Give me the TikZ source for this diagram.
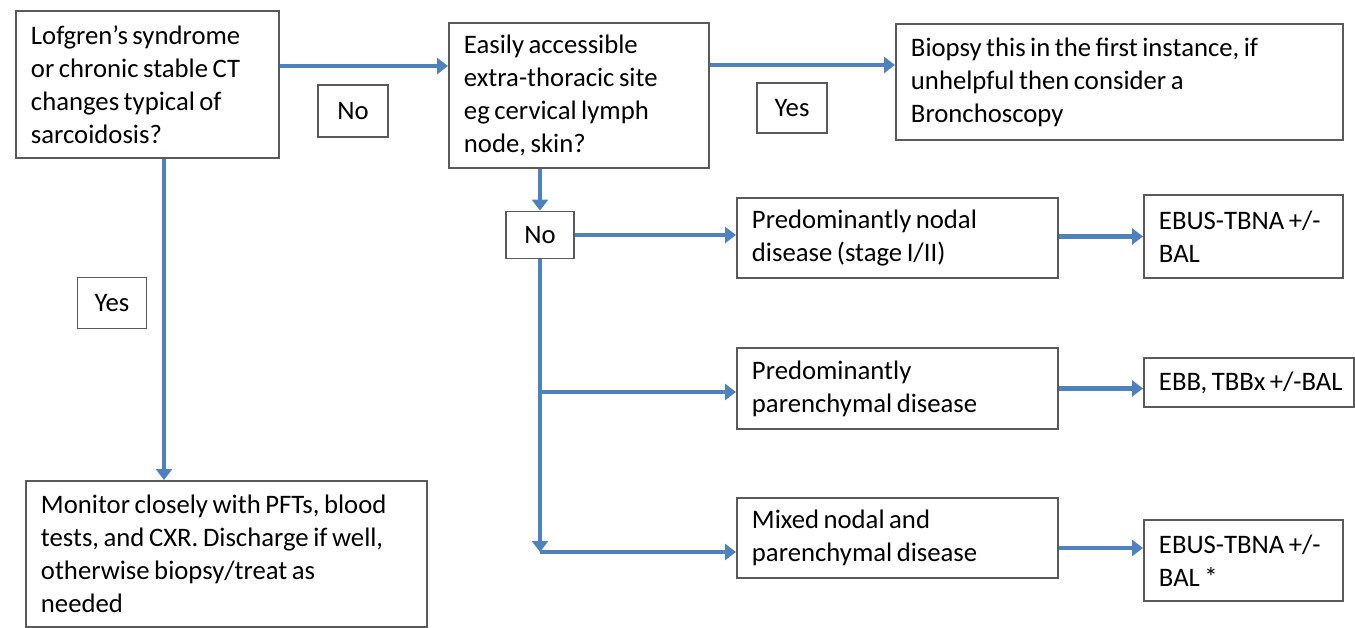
\documentclass[tikz,border=0pt]{standalone}
\usepackage{fontspec}
\setmainfont{Carlito}
\usepackage{xcolor}
\usepackage{tikz}
\usetikzlibrary{arrows.meta, positioning}

\definecolor{flowblue}{HTML}{4F81BD}
\definecolor{boxgray}{HTML}{5A5A5A}
\newcommand\flowfont{\fontsize{15.2}{18.8}\selectfont}

\begin{document}
\begin{tikzpicture}[
    x=0.02cm, y=-0.02cm,
    box/.style={draw=boxgray, line width=1.1pt, anchor=north west, align=left, inner xsep=0.3cm, inner ysep=0pt, font=\flowfont, text=black, execute at begin node={\spaceskip=0.17em\relax}},
    tag/.style={draw=boxgray, line width=1.1pt, inner sep=0pt, font=\flowfont, text=black},
    arr/.style={-{Triangle[length=0.22cm, width=0.32cm]}, draw=flowblue, line width=2.4pt},
]
\useasboundingbox (0,0) rectangle (1355,628);

% first question and its outcomes
\node[box, text width=4.66cm, minimum height=2.94cm] (lofgren) at (15,10) {Lofgren's syndrome\\or chronic stable CT\\changes typical of\\sarcoidosis?};
\node[box, text width=4.60cm, minimum height=2.90cm] (extra) at (448,22) {Easily accessible\\extra-thoracic site\\eg cervical lymph\\node, skin?};
\node[box, text width=8.34cm, minimum height=2.32cm] (biopsy) at (895,23) {Biopsy this in the first instance, if\\unhelpful then consider a\\Bronchoscopy};
\node[box, text width=7.42cm, minimum height=2.92cm] (monitor) at (25,480) {Monitor closely with PFTs,~blood\\tests, and CXR. Discharge if~well,\\otherwise biopsy/treat as\\needed};

% disease pattern
\node[box, text width=5.82cm, minimum height=1.60cm] (nodal) at (736,197) {Predominantly nodal\\disease (stage I/II)};
\node[box, text width=5.82cm, minimum height=1.62cm] (paren) at (736,347) {Predominantly\\parenchymal disease};
\node[box, text width=5.82cm, minimum height=1.60cm] (mixed) at (736,497) {Mixed nodal and\\parenchymal disease};

% procedures
\node[box, text width=3.38cm, minimum height=1.66cm] (ebusa) at (1143,194) {\mbox{EBUS-TBNA +/-}\\BAL};
\node[box, text width=3.60cm, minimum height=0.98cm] (ebb) at (1143,357) {\mbox{EBB, TBBx +/-BAL}};
\node[box, text width=3.38cm, minimum height=1.62cm] (ebusb) at (1143,519) {\mbox{EBUS-TBNA +/-}\\BAL *};

% yes / no tags
\node[tag, minimum width=1.40cm, minimum height=1.04cm] (noa) at (353,111) {No};
\node[tag, minimum width=1.40cm, minimum height=1.00cm] (yesa) at (792,108) {Yes};
\node[tag, minimum width=1.38cm, minimum height=1.02cm] (yesl) at (112,303) {Yes};
\node[tag, minimum width=1.36cm, minimum height=0.94cm] (nob) at (540,235) {No};

\coordinate (rowa) at (0,66);
\coordinate (rowb) at (0,65);
\coordinate (downl) at (164,0);
\coordinate (split) at (540,392);
\coordinate (bend) at (540,552);
\coordinate (rowm) at (0,548);

\draw[arr] (lofgren.east |- rowa) -- (extra.west |- rowa);
\draw[arr] (extra.east |- rowb) -- (biopsy.west |- rowb);
\draw[arr] (lofgren.south -| downl) -- (monitor.north -| downl);
\draw[arr] (extra.south -| nob) -- (nob.north);
\draw[arr] (nob.east) -- (nob.east -| nodal.west);
\draw[arr] (nob.south) -- (bend);
\draw[arr] (bend) -- (bend -| mixed.west);
\draw[arr] (split) -- (split -| paren.west);
\draw[arr] (nodal.east |- ebusa.west) -- (ebusa.west);
\draw[arr] (paren.east) -- (paren.east -| ebb.west);
\draw[arr] (mixed.east |- rowm) -- (ebusb.west |- rowm);
\end{tikzpicture}
\end{document}
